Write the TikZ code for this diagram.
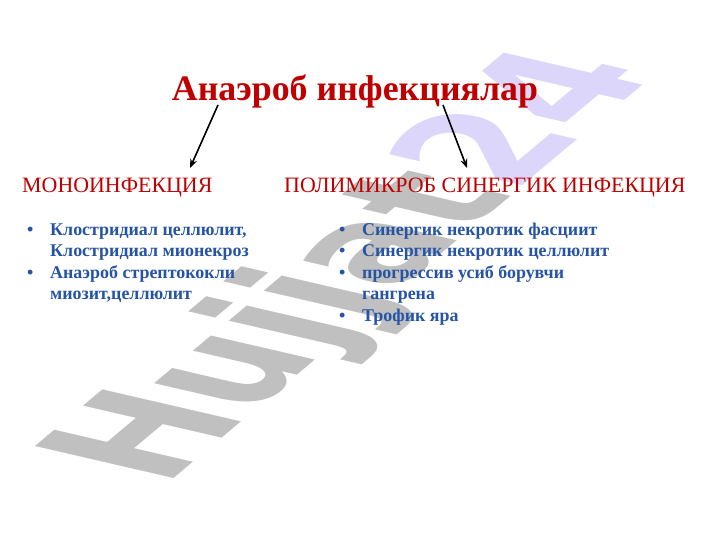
\documentclass[tikz,border=0pt]{standalone}
\usepackage{fontspec}
\setmainfont{Liberation Serif}
\newfontfamily\wmfont{DejaVu Sans}
\usetikzlibrary{arrows.meta}
\definecolor{titlered}{RGB}{192,0,0}
\definecolor{listblue}{RGB}{38,84,164}
\definecolor{wmgray}{RGB}{192,192,192}
\definecolor{wmlilac}{RGB}{220,214,250}
\tikzset{
  title/.style={text=titlered, font=\fontsize{36}{40}\selectfont\bfseries, inner sep=0pt, anchor=base},
  heading/.style={text=titlered, font=\fontsize{22}{26}\selectfont, inner sep=0pt, anchor=base west},
  itemlist/.style={text=listblue, font=\fontsize{18}{21.5}\selectfont\bfseries, inner sep=0pt, anchor=base west},
}

\begin{document}
\begin{tikzpicture}[x=1bp,y=-1bp,>={Stealth[length=9bp,width=7bp]}]
\useasboundingbox (0,0) rectangle (720,540);

% watermark
\begin{scope}[shift={(164,487)}]
  \node[cm={1.038,0.871,-1.910,0.441,(0,0)}, transform shape, anchor=base west, inner sep=0pt,
        font=\wmfont\fontsize{100}{100}\selectfont\bfseries] (wm) at (0,0)
        {\textcolor{wmgray}{Hujjat}\textcolor{wmlilac}{24}};
\end{scope}

\node[title] (title) at (355,101) {Анаэроб инфекциялар};
\node[heading] (mono) at (22,193) {МОНОИНФЕКЦИЯ};
\node[heading] (poly) at (284,193) {ПОЛИМИКРОБ СИНЕРГИК ИНФЕКЦИЯ};

\coordinate (monofrom) at (218,105);
\coordinate (monoto) at (190,168);
\coordinate (polyfrom) at (443,105);
\coordinate (polyto) at (467,168);
\draw[->, line width=1.6bp] (monofrom) to (monoto); \draw[->, line width=1.6bp] (polyfrom) to (polyto);

\node[itemlist] (monolist) at (27,235.5) {\begin{tabular}[t]{@{}p{23bp}@{}l@{}}
  \textbullet & Клостридиал целлюлит,\\
              & Клостридиал мионекроз\\
  \textbullet & Анаэроб стрептококли\\
              & миозит,целлюлит
\end{tabular}};
\node[itemlist] (polylist) at (339,235.5) {\begin{tabular}[t]{@{}p{23bp}@{}l@{}}
  \textbullet & Синергик некротик фасциит\\
  \textbullet & Синергик некротик целлюлит\\
  \textbullet & прогрессив усиб борувчи\\
              & гангрена\\
  \textbullet & Трофик яра
\end{tabular}};
\end{tikzpicture}
\end{document}
